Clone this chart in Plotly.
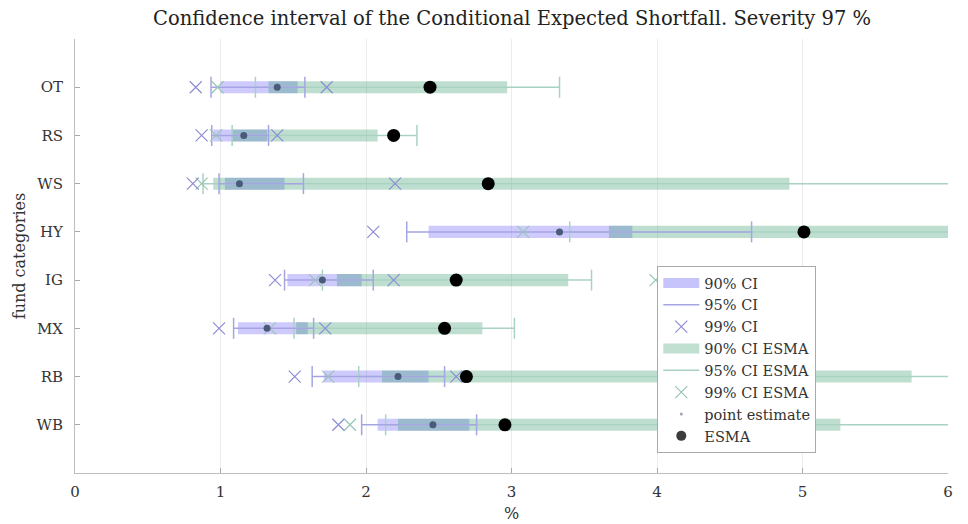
import plotly.graph_objects as go

categories = ["OT", "RS", "WS", "HY", "IG", "MX", "RB", "WB"]
ci90_lo = [1.00, 0.95, 1.03, 2.43, 1.46, 1.12, 1.71, 2.08]
ci90_hi = [1.53, 1.32, 1.44, 3.83, 1.97, 1.60, 2.43, 2.71]
ci95_lo = [0.935, 0.94, 0.99, 2.28, 1.44, 1.09, 1.63, 1.97]
ci95_hi = [1.58, 1.33, 1.57, 4.65, 2.05, 1.64, 2.54, 2.76]
ci99_lo = [0.83, 0.87, 0.81, 2.05, 1.375, 0.99, 1.51, 1.81]
ci99_hi = [1.73, 1.39, 2.20, None, 2.19, 1.72, 2.62, None]
esma90_lo = [1.33, 1.08, 0.95, 3.67, 1.80, 1.52, 2.11, 2.22]
esma90_hi = [2.97, 2.08, 4.91, 6.3, 3.39, 2.80, 5.75, 5.26]
esma95_lo = [1.24, 1.08, 0.88, 3.40, 1.70, 1.505, 1.95, 2.135]
esma95_hi = [3.33, 2.35, 6.3, 6.3, 3.55, 3.02, 6.3, 6.3]
esma99_lo = [0.98, 0.97, 0.87, 3.08, 1.65, 1.34, 1.74, 1.89]
esma99_hi = [None, None, None, None, 3.99, None, None, None]
point_est = [1.39, 1.16, 1.13, 3.33, 1.70, 1.32, 2.22, 2.46]
esma_est = [2.44, 2.19, 2.84, 5.01, 2.62, 2.54, 2.69, 2.955]

n = len(categories)
ypos = [n - i for i in range(n)]  # OT at top

FONT = "DejaVu Serif"
PURPLE_BAR = "rgba(30,20,240,0.22)"
GREEN_BAR = "rgba(40,150,100,0.30)"
PURPLE_LINE = "rgb(165,165,228)"
GREEN_LINE = "rgb(170,210,195)"
PURPLE_X = "rgb(140,140,212)"
GREEN_X = "rgb(150,198,182)"

fig = go.Figure()

# 90% CI bars
fig.add_trace(go.Bar(orientation="h", y=ypos, base=ci90_lo,
                     x=[h - l for l, h in zip(ci90_lo, ci90_hi)],
                     width=0.25, marker=dict(color=PURPLE_BAR, line=dict(width=0)),
                     showlegend=False, hoverinfo="skip"))
fig.add_trace(go.Bar(orientation="h", y=ypos, base=esma90_lo,
                     x=[h - l for l, h in zip(esma90_lo, esma90_hi)],
                     width=0.25, marker=dict(color=GREEN_BAR, line=dict(width=0)),
                     showlegend=False, hoverinfo="skip"))


def whisker(lo, hi, color):
    xs, ys = [], []
    for l, h, y in zip(lo, hi, ypos):
        xs += [l, h, None]
        ys += [y, y, None]
    return go.Scatter(x=xs, y=ys, mode="lines+markers",
                      line=dict(color=color, width=1.5),
                      marker=dict(symbol="line-ns", size=15,
                                  line=dict(color=color, width=1.5)),
                      showlegend=False, hoverinfo="skip")


fig.add_trace(whisker(esma95_lo, esma95_hi, GREEN_LINE))
fig.add_trace(whisker(ci95_lo, ci95_hi, PURPLE_LINE))


def xmarks(lo, hi, color):
    xs, ys = [], []
    for l, h, y in zip(lo, hi, ypos):
        for v in (l, h):
            if v is not None:
                xs.append(v)
                ys.append(y)
    return go.Scatter(x=xs, y=ys, mode="markers",
                      marker=dict(symbol="x-thin", size=12,
                                  line=dict(color=color, width=1.2)),
                      showlegend=False, hoverinfo="skip")


fig.add_trace(xmarks(esma99_lo, esma99_hi, GREEN_X))
fig.add_trace(xmarks(ci99_lo, ci99_hi, PURPLE_X))

fig.add_trace(go.Scatter(x=point_est, y=ypos, mode="markers",
                         marker=dict(color="rgb(75,90,120)", size=7),
                         showlegend=False, hoverinfo="skip"))
fig.add_trace(go.Scatter(x=esma_est, y=ypos, mode="markers",
                         marker=dict(color="black", size=13),
                         showlegend=False, hoverinfo="skip"))

# legend entries
fig.add_trace(go.Scatter(x=[None], y=[None], mode="lines", name="90% CI",
                         line=dict(color="rgb(198,196,250)", width=12)))
fig.add_trace(go.Scatter(x=[None], y=[None], mode="lines", name="95% CI",
                         line=dict(color=PURPLE_LINE, width=1.5)))
fig.add_trace(go.Scatter(x=[None], y=[None], mode="markers", name="99% CI",
                         marker=dict(symbol="x-thin", size=12,
                                     line=dict(color=PURPLE_X, width=1.2))))
fig.add_trace(go.Scatter(x=[None], y=[None], mode="lines", name="90% CI ESMA",
                         line=dict(color="rgb(194,224,210)", width=12)))
fig.add_trace(go.Scatter(x=[None], y=[None], mode="lines", name="95% CI ESMA",
                         line=dict(color=GREEN_LINE, width=1.5)))
fig.add_trace(go.Scatter(x=[None], y=[None], mode="markers", name="99% CI ESMA",
                         marker=dict(symbol="x-thin", size=12,
                                     line=dict(color=GREEN_X, width=1.2))))
fig.add_trace(go.Scatter(x=[None], y=[None], mode="markers", name="point estimate",
                         marker=dict(color="rgb(160,165,180)", size=3)))
fig.add_trace(go.Scatter(x=[None], y=[None], mode="markers", name="ESMA",
                         marker=dict(color="rgb(60,60,60)", size=10)))

fig.update_layout(
    width=968, height=524,
    margin=dict(l=75, r=20, t=39, b=51),
    paper_bgcolor="white", plot_bgcolor="white",
    barmode="overlay",
    font=dict(family=FONT, size=14, color="#333"),
    title=dict(text="Confidence interval of the Conditional Expected Shortfall. Severity 97 %",
               x=0.529, xanchor="center", y=0.9656, yanchor="middle",
               font=dict(family=FONT, size=19.5, color="#222")),
    xaxis=dict(range=[0, 6], tickvals=[0, 1, 2, 3, 4, 5, 6],
               showgrid=True, gridcolor="rgb(236,236,236)", gridwidth=1,
               zeroline=False, showline=True, linecolor="rgb(190,190,190)",
               ticks="inside", ticklen=5, tickcolor="rgb(170,170,170)",
               automargin=False, ticklabelstandoff=5,
               title=dict(text="%", standoff=7, font=dict(size=16)),
               tickfont=dict(size=15)),
    yaxis=dict(range=[0, 9], tickvals=ypos, ticktext=categories,
               showgrid=False, zeroline=False, showline=True,
               linecolor="rgb(190,190,190)", ticks="inside", ticklen=5,
               tickcolor="rgb(170,170,170)", automargin=False,
               ticklabelstandoff=8,
               title=dict(text="fund categories", standoff=6, font=dict(size=16)),
               tickfont=dict(size=15)),
    legend=dict(x=0.667, y=0.477, xanchor="left", yanchor="top",
                bgcolor="white", bordercolor="rgb(170,170,170)", borderwidth=1,
                font=dict(family=FONT, size=14.5, color="#333"),
                tracegroupgap=0, itemwidth=36),
)

fig.write_html("out.html",
               config={"displayModeBar": False},
               post_script="document.body.style.margin='0';document.body.style.overflow='hidden';")
